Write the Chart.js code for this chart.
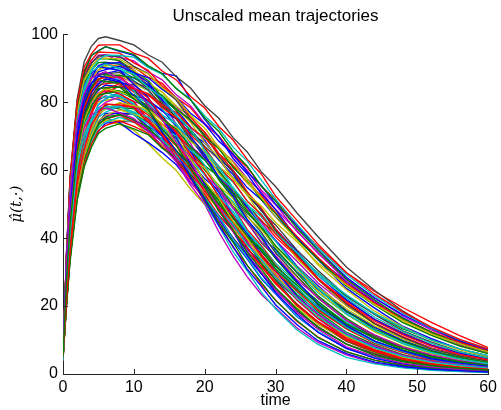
<!DOCTYPE html>
<html><head><meta charset="utf-8">
<script src="https://cdn.jsdelivr.net/npm/chart.js@4.4.1/dist/chart.umd.min.js"></script>
<style>html,body{margin:0;padding:0;background:#fff;}#wrap{width:501px;height:410px;}</style>
</head><body><div id="wrap"><canvas id="c" width="501" height="410"></canvas></div>
<script>
const times = [0, 0.5, 1, 2, 3, 4, 5, 6, 8, 10, 12, 14, 16, 18, 20, 22, 24, 26, 28, 30, 33, 36, 40, 44, 48, 52, 56, 60];
const xTicks = [0, 10, 20, 30, 40, 50, 60];
const yTicks = [0, 20, 40, 60, 80, 100];

const traj01 = [5, 36, 58, 81, 92, 96.5, 98.8, 99.3, 98.2, 96.9, 94.0, 91.8, 87.5, 84.2, 79.0, 75.3, 69.6, 65.4, 59.5, 55.2, 47.5, 40.4, 31.5, 24.6, 18.5, 13.5, 9.6, 6.5];
const traj02 = [4, 36, 57, 80, 89, 93.8, 95.2, 96.4, 95.0, 93.8, 90.4, 88.5, 87.8, 80.8, 75.0, 69.8, 63.5, 58.9, 53.0, 48.4, 40.1, 33.6, 25.2, 19.4, 14.0, 10.4, 7.3, 5.3];
const traj03 = [6, 35, 56, 79, 88.5, 92.4, 94.8, 94.7, 94.5, 91.6, 89.4, 84.8, 81.3, 75.6, 71.2, 64.9, 60.0, 53.6, 48.8, 42.7, 35.6, 28.2, 20.9, 15.0, 10.9, 7.5, 5.4, 3.8];
const traj04 = [5, 35, 56, 78, 87.6, 91.5, 93.9, 94.0, 93.2, 92.2, 89.0, 86.6, 82.2, 79.0, 73.8, 69.9, 64.2, 60.0, 54.1, 49.9, 42.0, 35.7, 27.4, 21.5, 15.9, 12.1, 8.6, 6.4];
const traj05 = [5, 35, 55, 77, 86.8, 90.5, 92.8, 92.9, 92.3, 89.1, 86.5, 81.6, 77.5, 71.3, 66.6, 59.9, 54.7, 48.0, 43.0, 36.9, 29.8, 23.0, 16.4, 11.2, 7.9, 5.3, 3.8, 2.6];
const traj06 = [4, 30, 47, 70, 81, 86.8, 89.5, 91.2, 90.6, 90.4, 87.4, 85.6, 81.3, 78.4, 73.5, 70.1, 64.7, 60.9, 55.3, 51.2, 43.6, 37.5, 29.8, 24.3, 19.5, 15.2, 11.3, 7.8];
const traj07 = [6, 34, 54, 75, 84.8, 88.5, 90.6, 90.2, 90.1, 86.4, 83.5, 78.0, 73.4, 66.9, 61.5, 54.4, 48.9, 42.0, 36.9, 31.0, 24.2, 17.8, 12.1, 7.9, 5.4, 3.5, 2.5, 1.7];
const traj08 = [5, 29, 46, 68, 79.5, 84.4, 88.0, 88.5, 89.4, 87.1, 85.2, 81.0, 77.9, 72.8, 68.8, 63.0, 58.7, 52.7, 48.3, 42.7, 36.1, 29.0, 21.9, 16.0, 11.8, 8.4, 6.1, 4.4];
const traj09 = [5, 33, 53, 74, 82.6, 87.1, 88.2, 88.6, 86.5, 83.3, 77.5, 72.1, 64.5, 58.1, 50.4, 43.5, 36.0, 30.4, 24.1, 19.2, 13.0, 8.7, 4.9, 3.0, 1.8, 1.1, 0.7, 0.4];
const traj10 = [4, 29, 46, 67, 78.6, 83.5, 87.0, 87.5, 88.1, 85.6, 83.4, 78.8, 75.3, 69.6, 65.3, 59.1, 54.4, 48.1, 43.4, 37.7, 31.0, 24.3, 17.6, 12.4, 8.9, 6.0, 4.3, 3.1];
const traj11 = [5, 28, 45, 67, 77.2, 83.0, 85.5, 86.9, 85.8, 84.0, 79.3, 75.2, 68.8, 63.7, 56.6, 51.0, 44.0, 38.7, 32.5, 27.7, 20.4, 15.3, 9.7, 6.5, 4.1, 2.8, 2.0, 1.3];
const traj12 = [6, 28, 45, 66, 76.4, 82.0, 84.6, 86.2, 85.8, 85.1, 82.0, 79.7, 75.4, 72.1, 67.0, 63.2, 57.7, 53.5, 48.0, 43.9, 36.5, 30.5, 23.0, 17.5, 12.7, 9.4, 6.6, 4.8];
const traj13 = [5, 28, 45, 66, 76.8, 81.6, 85.0, 85.5, 85.9, 83.0, 80.5, 75.5, 71.4, 65.4, 60.6, 54.1, 49.1, 42.6, 37.8, 32.1, 25.5, 19.3, 13.4, 9.1, 6.3, 4.2, 3.0, 2.1];
const traj14 = [5, 28, 44, 65, 75.5, 81.1, 83.6, 85.1, 84.5, 83.7, 80.2, 77.7, 72.9, 69.3, 63.8, 59.6, 53.6, 49.3, 43.5, 39.3, 31.8, 26.0, 18.7, 13.8, 9.6, 6.9, 4.8, 3.5];
const traj15 = [4, 27, 44, 64, 75.0, 79.8, 82.9, 83.2, 82.9, 78.8, 74.8, 68.1, 62.4, 55.6, 50.0, 41.8, 34.8, 28.6, 23.4, 19.5, 13.6, 9.3, 5.6, 3.2, 2.0, 1.2, 0.8, 0.5];
const traj16 = [5, 27, 44, 64, 74.6, 80.2, 82.6, 84.1, 83.3, 82.3, 78.4, 75.4, 70.1, 66.1, 60.1, 55.5, 49.3, 44.7, 38.6, 34.4, 26.9, 21.4, 14.7, 10.4, 7.0, 4.9, 3.4, 2.4];
const traj17 = [6, 23, 37, 57, 68.3, 74.6, 79.4, 81.0, 82.9, 82.0, 80.7, 77.4, 75.2, 70.9, 68.1, 63.3, 59.9, 54.9, 51.3, 46.3, 40.4, 33.8, 27.2, 21.1, 16.5, 12.2, 9.3, 6.7];
const traj18 = [5, 27, 43, 64, 73.8, 79.2, 81.6, 82.9, 81.6, 79.8, 74.9, 70.8, 64.4, 59.1, 52.0, 46.4, 39.7, 34.3, 28.3, 23.9, 17.1, 12.5, 7.6, 4.9, 3.0, 2.0, 1.4, 0.9];
const traj19 = [5, 27, 43, 63, 73.4, 77.9, 81.2, 81.6, 81.9, 78.9, 76.3, 71.2, 67.1, 61.0, 56.2, 49.7, 44.6, 38.4, 33.7, 28.3, 22.0, 16.4, 11.0, 7.2, 5.0, 3.3, 2.3, 1.6];
const traj20 = [4, 23, 37, 56, 67.5, 73.7, 78.3, 80.0, 81.6, 80.3, 78.7, 74.8, 72.0, 67.1, 63.6, 58.1, 54.2, 48.6, 44.6, 39.3, 33.3, 26.8, 20.2, 14.9, 10.9, 7.7, 5.6, 4.0];
const traj21 = [5, 26, 42, 62, 72.4, 77.0, 80.2, 80.6, 81.2, 78.9, 76.9, 72.6, 69.5, 64.2, 60.2, 54.5, 50.2, 44.3, 40.1, 34.7, 28.6, 22.4, 16.2, 11.4, 8.2, 5.6, 4.0, 2.8];
const traj22 = [6, 27, 43, 63, 72.9, 78.3, 80.6, 81.9, 80.7, 78.9, 74.0, 70.0, 63.6, 58.4, 51.5, 45.9, 39.2, 33.9, 28.0, 23.6, 16.9, 12.4, 7.5, 4.9, 3.0, 2.0, 1.3, 0.9];
const traj23 = [5, 22, 36, 55, 65.4, 72.4, 76.0, 78.6, 78.5, 78.1, 74.2, 71.1, 65.8, 61.7, 55.7, 51.2, 44.9, 40.3, 34.6, 30.4, 23.4, 18.3, 12.3, 8.6, 5.7, 3.9, 2.8, 2.0];
const traj24 = [5, 22, 36, 55, 65.8, 72.0, 76.5, 78.1, 79.8, 78.6, 77.2, 73.5, 71.0, 66.4, 63.2, 58.1, 54.5, 49.1, 45.3, 40.3, 34.5, 28.0, 21.6, 16.1, 12.1, 8.6, 6.3, 4.5];
const traj25 = [4, 26, 41, 61, 70.3, 75.5, 77.7, 79.1, 78.0, 76.5, 72.1, 68.4, 62.6, 58.0, 51.4, 46.5, 40.0, 35.2, 29.5, 25.2, 18.6, 14.0, 8.8, 5.9, 3.8, 2.6, 1.8, 1.2];
const traj26 = [5, 22, 35, 54, 65.0, 71.1, 75.6, 77.1, 78.7, 77.2, 75.5, 71.5, 68.7, 63.8, 60.2, 54.7, 50.7, 45.1, 41.1, 36.0, 30.0, 23.9, 17.6, 12.6, 9.2, 6.4, 4.5, 3.2];
const traj27 = [6, 22, 35, 54, 63.8, 70.6, 74.1, 76.7, 76.8, 76.6, 72.9, 70.2, 65.2, 61.5, 55.9, 51.7, 45.8, 41.6, 36.0, 31.9, 25.0, 19.9, 13.7, 9.7, 6.5, 4.6, 3.2, 2.2];
const traj28 = [5, 21, 35, 53, 64.2, 70.2, 74.4, 76.0, 77.0, 74.7, 72.0, 66.8, 62.6, 56.5, 51.5, 45.1, 40.2, 34.2, 29.6, 24.5, 18.7, 13.6, 8.9, 5.8, 3.8, 2.6, 1.8, 1.2];
const traj29 = [5, 21, 35, 53, 63.0, 69.7, 73.2, 75.8, 76.3, 76.7, 73.9, 72.0, 68.4, 65.7, 61.3, 58.2, 53.3, 49.9, 45.0, 41.5, 35.0, 29.7, 22.8, 17.8, 13.3, 10.1, 7.3, 5.3];
const traj30 = [4, 21, 35, 53, 63.4, 69.3, 73.5, 75.1, 76.2, 74.2, 71.7, 66.9, 63.1, 57.3, 52.9, 46.7, 42.0, 36.1, 31.7, 26.6, 20.7, 15.4, 10.4, 6.8, 4.7, 3.1, 2.1, 1.5];
const traj31 = [5, 21, 34, 52, 62.6, 68.4, 72.7, 74.2, 75.6, 74.1, 72.3, 68.2, 65.3, 60.3, 56.6, 51.2, 47.2, 41.6, 37.7, 32.6, 26.9, 21.0, 15.2, 10.7, 7.7, 5.3, 3.7, 2.7];
const traj32 = [6, 21, 34, 52, 62.7, 68.4, 72.3, 74.8, 74.7, 74.3, 70.6, 67.6, 62.5, 58.7, 53.0, 48.6, 42.8, 38.4, 32.9, 28.9, 22.3, 17.4, 11.7, 8.2, 5.4, 3.7, 2.7, 1.9];
const traj33 = [5, 21, 34, 52, 61.4, 68.0, 71.4, 73.9, 74.3, 74.4, 71.4, 69.3, 65.2, 62.3, 57.5, 54.0, 49.0, 45.3, 40.3, 36.6, 30.1, 24.9, 18.3, 13.8, 9.8, 7.2, 5.1, 3.7];
const traj34 = [5, 28, 45, 62, 70.2, 73.5, 74.6, 75.5, 74.0, 70.8, 68.2, 65.2, 61.6, 56.4, 52.3, 46.7, 42.3, 36.8, 32.6, 27.8, 22.0, 16.8, 11.6, 7.8, 5.4, 3.6, 2.6, 1.8];
const traj35 = [5, 28, 44, 61, 69.2, 72.6, 73.7, 74.9, 73.4, 71.8, 67.9, 63.6, 59.9, 54.4, 50.0, 44.4, 39.8, 34.3, 30.1, 25.2, 19.6, 14.6, 9.9, 6.4, 4.4, 2.9, 2.0, 1.4];
const traj36 = [4, 34, 55, 76, 85.8, 89.5, 91.7, 91.8, 91.2, 87.8, 85.0, 79.8, 75.6, 69.1, 64.0, 57.2, 51.8, 45.0, 39.9, 34.0, 27.0, 20.4, 14.1, 9.6, 6.7, 4.5, 3.2, 2.2];
const traj37 = [5, 35, 56, 78, 87.2, 91.9, 93.2, 94.1, 92.0, 89.6, 84.6, 80.2, 73.5, 67.9, 60.4, 54.5, 47.0, 41.3, 34.7, 29.6, 21.8, 16.3, 10.4, 6.9, 4.5, 3.0, 2.1, 1.4];
const traj38 = [6, 34, 54, 75, 83.5, 88.0, 89.4, 90.5, 89.2, 88.3, 85.2, 83.0, 78.9, 75.7, 70.7, 67.0, 61.5, 57.5, 51.8, 47.8, 40.2, 34.1, 26.2, 20.5, 15.3, 11.6, 8.3, 6.1];
const traj39 = [5, 28, 45, 67, 77.6, 82.6, 86.1, 86.6, 87.6, 85.8, 84.5, 81.0, 78.7, 74.3, 71.2, 66.3, 62.7, 57.5, 53.6, 48.5, 42.3, 35.5, 28.1, 22.4, 17.0, 13.0, 9.5, 7.0];
const traj40 = [5, 28, 44, 65, 75.9, 80.7, 84.0, 84.4, 84.6, 81.3, 78.3, 72.7, 68.1, 61.5, 56.1, 49.1, 43.8, 37.2, 32.3, 26.7, 20.4, 14.8, 9.7, 6.2, 4.1, 2.8, 1.9, 1.3];
const traj41 = [5, 36, 58, 80, 90.4, 94.3, 96.8, 96.9, 96.9, 94.5, 93.0, 89.2, 86.6, 81.7, 78.3, 72.9, 68.9, 63.2, 58.9, 52.4, 45.3, 38.2, 29.9, 23.5, 18.2, 13.8, 10.2, 7.3];
const traj42 = [5, 35, 57, 80, 89.0, 93.8, 95.1, 96.4, 95.2, 94.1, 90.8, 88.5, 84.0, 80.7, 75.4, 71.4, 65.6, 61.2, 55.3, 50.9, 42.9, 36.4, 27.9, 21.8, 16.3, 12.3, 8.8, 6.5];
const traj43 = [5, 31, 49, 72, 83.3, 89.5, 92.4, 93.9, 93.8, 93.3, 90.3, 88.2, 84.1, 80.9, 76.0, 72.3, 66.8, 62.7, 57.1, 51.5, 44.2, 37.2, 29.3, 23.0, 17.9, 13.6, 10.1, 7.4];
const traj44 = [6, 35, 55, 77, 86.7, 90.4, 92.9, 93.0, 92.8, 90.1, 88.4, 84.3, 81.3, 76.2, 72.4, 66.7, 62.4, 56.4, 52.0, 46.2, 39.5, 32.1, 24.8, 18.5, 13.8, 9.9, 7.1, 5.2];
const traj45 = [5, 29, 47, 69, 80.2, 85.4, 89.0, 89.6, 90.6, 88.7, 87.3, 83.8, 81.4, 76.8, 73.6, 68.5, 64.8, 59.4, 55.5, 50.0, 43.7, 36.5, 28.5, 22.3, 17.4, 13.4, 9.8, 7.2];
const traj46 = [4, 29, 46, 68, 78.1, 83.9, 86.7, 88.1, 87.9, 87.3, 84.3, 82.1, 78.0, 74.8, 69.9, 66.3, 60.8, 56.8, 51.3, 47.3, 39.7, 33.8, 25.9, 20.3, 15.1, 11.4, 8.2, 6.0];
const traj47 = [5, 23, 38, 58, 69.8, 76.4, 81.1, 82.9, 84.8, 83.9, 82.6, 79.2, 77.0, 72.6, 69.6, 64.8, 61.3, 56.2, 52.5, 47.4, 40.6, 34.3, 26.6, 20.9, 16.1, 12.4, 9.3, 6.8];
const traj48 = [5, 35, 56, 78, 87.6, 91.4, 93.7, 93.8, 93.5, 90.6, 88.5, 84.0, 80.6, 74.8, 70.4, 64.2, 59.4, 53.0, 48.3, 42.2, 35.3, 27.9, 20.6, 14.8, 10.7, 7.4, 5.3, 3.8];
const traj49 = [5, 33, 52, 72, 81.2, 84.6, 86.7, 86.1, 85.5, 81.3, 77.5, 71.1, 65.7, 58.2, 51.9, 44.6, 38.8, 32.0, 27.0, 21.6, 15.8, 10.7, 6.6, 4.0, 2.5, 1.7, 1.1, 0.8];
const traj50 = [4, 27, 44, 64, 74.5, 80.3, 82.5, 83.8, 82.4, 80.2, 74.9, 70.3, 63.4, 57.7, 50.8, 44.4, 37.3, 32.0, 26.4, 21.8, 15.5, 10.9, 6.5, 4.1, 2.6, 1.7, 1.1, 0.7];
const traj51 = [5, 34, 54, 75, 84.9, 88.5, 90.6, 90.1, 89.4, 85.3, 81.5, 75.0, 69.6, 62.0, 55.8, 48.1, 42.0, 34.9, 29.6, 24.0, 17.7, 12.2, 7.6, 4.6, 2.9, 1.9, 1.3, 0.9];
const traj52 = [5, 27, 43, 63, 73.3, 77.8, 81.2, 81.7, 82.0, 79.4, 77.1, 72.4, 68.8, 63.1, 58.7, 52.5, 47.9, 41.8, 37.3, 31.8, 25.6, 19.5, 13.7, 9.3, 6.6, 4.4, 3.1, 2.2];
const traj53 = [6, 22, 36, 55, 65.4, 72.4, 76.0, 78.5, 78.9, 78.6, 75.2, 72.6, 67.8, 64.2, 58.7, 54.6, 48.8, 44.6, 38.9, 34.9, 27.8, 22.5, 15.8, 11.5, 7.9, 5.6, 3.9, 2.8];
const traj54 = [5, 22, 35, 54, 64.2, 70.2, 74.6, 76.2, 77.8, 76.5, 75.0, 71.2, 68.6, 63.9, 60.6, 55.4, 51.7, 46.2, 42.5, 37.5, 31.6, 25.5, 19.2, 14.1, 10.4, 7.4, 5.3, 3.8];
const traj55 = [5, 29, 46, 68, 79.4, 84.4, 87.9, 88.4, 88.8, 86.2, 83.8, 79.0, 75.0, 69.1, 64.5, 57.9, 53.0, 46.5, 41.7, 35.7, 28.9, 22.3, 15.8, 10.8, 7.7, 5.2, 3.6, 2.5];
const traj56 = [4, 21, 35, 53, 63.4, 69.3, 73.6, 75.2, 76.4, 74.8, 72.8, 68.5, 65.2, 60.0, 56.0, 50.2, 46.0, 40.3, 36.2, 31.0, 25.1, 19.3, 13.7, 9.4, 6.7, 4.5, 3.2, 2.2];
const traj57 = [6, 30, 47, 70, 80.7, 86.7, 89.5, 90.9, 90.5, 89.5, 85.8, 83.0, 78.0, 74.1, 68.2, 63.6, 57.4, 52.7, 46.5, 42.0, 34.0, 27.8, 20.0, 14.7, 10.3, 7.3, 5.2, 3.7];
const traj58 = [5, 23, 37, 57, 68.2, 74.6, 79.3, 81.0, 82.7, 81.5, 80.0, 76.2, 73.6, 68.9, 65.5, 60.3, 56.5, 50.9, 47.1, 41.8, 35.6, 29.0, 22.4, 16.7, 12.5, 9.0, 6.5, 4.7];
const traj59 = [5, 21, 34, 52, 61.8, 67.6, 71.7, 73.2, 74.5, 72.9, 70.9, 66.7, 63.5, 58.4, 54.6, 49.0, 44.9, 39.3, 35.3, 30.2, 24.5, 18.8, 13.3, 9.1, 6.5, 4.4, 3.1, 2.2];
const traj60 = [5, 28, 45, 67, 77.2, 83.0, 85.4, 86.9, 86.0, 84.4, 80.0, 76.2, 70.3, 65.5, 58.7, 53.4, 46.5, 41.4, 35.1, 30.4, 22.9, 17.5, 11.5, 7.8, 5.1, 3.5, 2.4, 1.7];
const traj61 = [5, 28, 44, 65, 75.9, 80.6, 84.1, 84.3, 84.5, 81.0, 77.9, 72.1, 67.4, 60.6, 55.0, 47.9, 42.5, 35.8, 30.9, 25.4, 19.2, 13.7, 8.8, 5.5, 3.6, 2.4, 1.7, 1.1];
const traj62 = [5, 22, 36, 56, 66.2, 73.3, 76.8, 79.5, 79.2, 78.5, 74.2, 70.6, 64.8, 60.2, 53.8, 48.7, 42.3, 37.3, 31.5, 27.1, 20.2, 15.3, 9.9, 6.7, 4.3, 2.9, 2.0, 1.4];
const traj63 = [6, 33, 53, 74, 82.5, 87.2, 88.3, 89.0, 87.0, 84.5, 79.3, 74.9, 68.2, 62.6, 55.0, 49.2, 42.0, 36.3, 30.0, 25.3, 18.2, 13.2, 8.0, 5.2, 3.2, 2.1, 1.4, 1.0];
const traj64 = [4, 26, 41, 61, 70.7, 75.1, 78.2, 78.6, 79.0, 76.2, 73.8, 69.0, 65.2, 59.5, 55.0, 48.8, 44.1, 38.0, 33.7, 28.4, 22.4, 16.8, 11.5, 7.6, 5.2, 3.5, 2.5, 1.7];
const traj65 = [5, 27, 44, 64, 74.6, 80.2, 82.6, 84.0, 83.1, 81.6, 77.3, 73.7, 67.9, 63.3, 56.8, 51.7, 45.0, 39.9, 33.9, 29.4, 22.2, 17.0, 11.1, 7.6, 5.0, 3.4, 2.3, 1.6];
const traj66 = [5, 33, 52, 73, 82.1, 85.7, 87.7, 87.4, 86.3, 81.9, 77.9, 71.2, 65.5, 57.8, 51.3, 43.7, 37.6, 30.9, 25.8, 20.4, 14.6, 9.8, 6.0, 3.5, 2.2, 1.4, 1.0, 0.6];
const traj67 = [5, 29, 47, 65, 72.5, 76.4, 77.5, 78.4, 76.9, 75.3, 71.5, 68.5, 63.4, 59.5, 53.7, 49.3, 43.4, 38.9, 33.4, 29.3, 22.6, 17.6, 11.8, 8.3, 5.5, 3.8, 2.7, 1.9];
const traj68 = [5, 34, 54, 75, 84.4, 89.0, 90.3, 91.3, 89.9, 88.3, 84.4, 81.4, 76.1, 72.0, 65.9, 61.2, 54.8, 50.0, 43.8, 39.1, 31.3, 25.2, 17.7, 12.9, 8.9, 6.3, 4.4, 3.1];
const traj69 = [5, 27, 43, 64, 74.2, 78.8, 82.1, 82.6, 83.3, 81.0, 79.2, 75.1, 72.1, 66.9, 63.1, 57.4, 53.2, 47.4, 43.2, 37.8, 31.5, 25.0, 18.5, 13.2, 9.6, 6.7, 4.8, 3.4];
const traj70 = [5, 24, 39, 59, 70.6, 77.2, 82.0, 83.8, 85.5, 84.2, 82.4, 78.4, 75.4, 70.4, 66.6, 60.9, 56.8, 50.9, 46.8, 41.2, 34.8, 28.0, 21.1, 15.6, 11.5, 8.2, 5.8, 4.2];
const traj71 = [5, 20, 33, 51, 61.0, 66.7, 70.8, 72.3, 73.7, 72.2, 70.5, 66.5, 63.6, 58.7, 55.2, 49.8, 46.0, 40.6, 36.8, 31.8, 26.2, 20.5, 14.8, 10.5, 7.5, 5.2, 3.6, 2.6];
const traj72 = [5, 30, 48, 70, 82.0, 87.2, 90.8, 91.5, 91.7, 88.7, 85.9, 80.6, 76.3, 69.9, 64.7, 57.8, 52.4, 45.5, 40.3, 34.4, 27.3, 20.7, 14.3, 9.7, 6.8, 4.5, 3.2, 2.3];
const traj73 = [6, 22, 36, 55, 65.8, 72.0, 76.5, 78.1, 79.9, 79.0, 77.9, 74.6, 72.6, 68.4, 65.7, 61.0, 57.8, 52.9, 49.5, 44.6, 39.0, 32.6, 26.2, 20.4, 15.8, 11.8, 8.9, 6.5];
const traj74 = [4, 29, 46, 67, 78.5, 83.5, 86.9, 87.3, 87.5, 84.3, 81.3, 75.7, 71.1, 64.5, 59.1, 52.0, 46.6, 39.8, 34.8, 29.0, 22.3, 16.4, 10.9, 7.1, 4.8, 3.2, 2.2, 1.5];
const traj75 = [5, 26, 41, 60, 69.8, 74.2, 77.4, 77.9, 78.7, 76.9, 75.7, 72.2, 70.1, 65.8, 62.9, 58.2, 54.8, 49.8, 46.3, 41.5, 35.8, 29.6, 23.3, 17.8, 13.6, 10.0, 7.4, 5.4];

const B='#0000ff', G='#008000', R='#ff0000', C='#00bfbf', M='#bf00bf', Y='#bfbf00', K='#404040';
const trajectories = [
  traj61,traj62,traj63,traj64,traj65,traj66,traj67,traj68,traj69,traj70,traj71,traj72,traj73,traj74,traj75,
  traj41,traj42,traj43,traj44,traj45,traj46,traj47,traj48,traj49,traj50,
  traj51,traj52,traj53,traj54,traj55,traj56,traj57,traj58,traj59,traj60,
  traj01,traj02,traj03,traj04,traj05,traj06,traj07,traj08,traj09,traj10,
  traj11,traj12,traj13,traj14,traj15,traj16,traj17,traj18,traj19,traj20,
  traj21,traj22,traj23,traj24,traj25,traj26,traj27,traj28,traj29,traj30,
  traj31,traj32,traj33,traj34,traj35,traj36,traj37,traj38,traj39,traj40];
const trajColors = [
  G,R,M,C,Y,B,M,C,G,R,G,B,Y,R,C,
  R,G,C,Y,B,G,R,K,G,R, B,C,M,Y,K,G,Y,C,R,B,
  K,B,R,M,G,R,C,B,C,Y, G,K,R,B,M,G,B,C,R,M, Y,B,G,R,K,C,B,M,G,R, C,Y,B,B,Y,G,M,Y,M,R];

const datasets = trajectories.map((vals, i) => ({
  data: vals.map((v, j) => ({x: times[j], y: v})),
  borderColor: trajColors[i],
  borderWidth: 1.35,
  pointRadius: 0,
  tension: 0,
  fill: false
}));

const axisColor = '#262626';
const innerTicks = {
  id: 'innerTicks',
  afterDraw(chart) {
    const {ctx, scales: {x, y}} = chart;
    ctx.save();
    ctx.strokeStyle = axisColor;
    ctx.lineWidth = 1;
    ctx.beginPath();
    xTicks.forEach(v => {
      const px = Math.round(x.getPixelForValue(v)) + 0.5;
      ctx.moveTo(px, y.bottom); ctx.lineTo(px, y.bottom - 5);
    });
    yTicks.forEach(v => {
      const py = Math.round(y.getPixelForValue(v)) + 0.5;
      ctx.moveTo(x.left, py); ctx.lineTo(x.left + 5, py);
    });
    ctx.stroke();
    ctx.restore();
  }
};

const sans = 'Liberation Sans, Arial, Helvetica, sans-serif';
new Chart(document.getElementById('c'), {
  type: 'line',
  data: {datasets},
  plugins: [innerTicks],
  options: {
    responsive: false,
    animation: false,
    events: [],
    layout: {padding: {left: 0, right: 0, top: 0, bottom: 0}},
    plugins: {
      legend: {display: false},
      tooltip: {enabled: false},
      title: {
        display: true, text: 'Unscaled mean trajectories', fullSize: false,
        color: '#000', font: {family: sans, size: 17, weight: 'normal'},
        padding: {top: 6, bottom: 8}
      }
    },
    scales: {
      x: {
        type: 'linear', min: 0, max: 60,
        afterBuildTicks(s) { s.ticks = xTicks.map(v => ({value: v})); },
        afterFit(s) { s.height = 36; },
        ticks: {color: '#000', font: {family: sans, size: 16}, padding: 4, maxRotation: 0, autoSkip: false},
        grid: {display: false, drawTicks: false},
        border: {display: true, color: axisColor, width: 1},
        title: {display: true, text: 'time', color: '#000', font: {family: sans, size: 16}, padding: {top: 0, bottom: 0}}
      },
      y: {
        type: 'linear', min: 0, max: 100,
        afterBuildTicks(s) { s.ticks = yTicks.map(v => ({value: v})); },
        afterFit(s) { s.width = 63; },
        ticks: {color: '#000', font: {family: sans, size: 16}, padding: 5, autoSkip: false},
        grid: {display: false, drawTicks: false},
        border: {display: true, color: axisColor, width: 1},
        title: {display: true, text: 'μ\u0302(t,·)', color: '#000', font: {family: 'DejaVu Serif, Liberation Serif, serif', size: 15, style: 'italic'}, padding: {top: 8, bottom: 0}}
      }
    }
  }
});
</script>
</body></html>
